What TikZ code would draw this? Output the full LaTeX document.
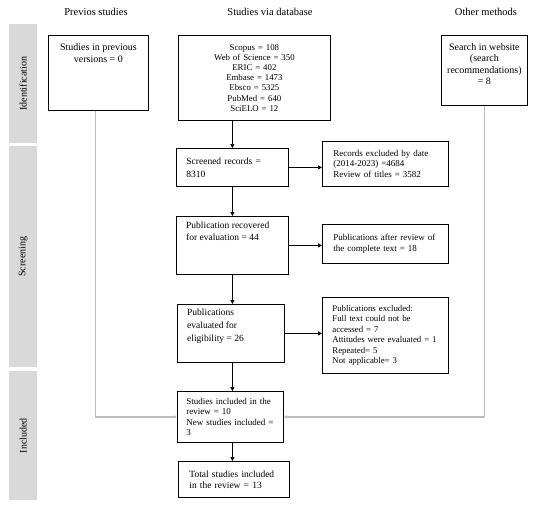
\documentclass[tikz,border=0pt]{standalone}
\usepackage{fontspec}
\setmainfont{Liberation Serif}
\usetikzlibrary{arrows.meta}
\definecolor{phasegray}{RGB}{217,217,217}
\definecolor{linegray}{RGB}{190,190,190}
\begin{document}
\begin{tikzpicture}[x=1pt, y=-1pt,
  box/.style={draw, line width=0.8pt, anchor=north west, inner sep=0pt},
  phase/.style={fill=phasegray, anchor=north west, inner sep=0pt},
  head/.style={font=\fontsize{10.5}{12}\selectfont},
  arr/.style={-{Triangle[length=4pt,width=4pt]}, line width=0.7pt},
  garr/.style={-{Triangle[length=3pt,width=3pt]}, line width=1.3pt, draw=linegray}]
\useasboundingbox (0,0) rectangle (548,506);
% column heads
\node[head] (h1) at (96,12) {Previos studies};
\node[head] (h2) at (270,12) {Studies via database};
\node[head] (h3) at (486,12) {Other methods};
% phase bars
\node[phase, minimum width=28, minimum height=119] (p1) at (9,24) {};
\node[rotate=90, font=\fontsize{10}{11}\selectfont] at (p1) {Identification};
\node[phase, minimum width=28, minimum height=221] (p2) at (9,146) {};
\node[rotate=90, font=\fontsize{10}{11}\selectfont] at (p2) {Screening};
\node[phase, minimum width=28, minimum height=129] (p3) at (9,371) {};
\node[rotate=90, font=\fontsize{10}{11}\selectfont] at (p3) {Included};
% identification
\node[box, minimum width=100, minimum height=75] (prev) at (48,35) {};
\node[anchor=north, align=center, inner sep=0pt, font=\fontsize{10}{12}\selectfont]
  (prev-t) at ([yshift=-8]prev.north) {Studies in previous\\versions = 0};
\node[box, minimum width=152, minimum height=85, align=center, text width=152,
  font=\fontsize{8.8}{10.2}\selectfont] (db) at (178,35)
  {Scopus = 108\\Web of Science = 350\\ERIC = 402\\Embase = 1473\\Ebsco = 5325\\PubMed = 640\\SciELO = 12};
\node[box, minimum width=86, minimum height=70] (web) at (441,35) {};
\node[anchor=north, align=center, inner sep=0pt, font=\fontsize{10}{11.5}\selectfont]
  (web-t) at ([yshift=-8]web.north) {Search in website\\(search\\recommendations)\\= 8};
% screening
\node[box, minimum height=38, inner xsep=10, text width=92, align=left,
  font=\fontsize{9.5}{13}\selectfont] (scr) at (176,148) {Screened records =\\8310};
\node[box, minimum height=45, inner xsep=11, text width=104, align=left,
  font=\fontsize{9}{10.5}\selectfont] (exc1) at (322,141)
  {Records excluded by date\\(2014-2023) =4684\\Review of titles = 3582};
\node[box, minimum width=112, minimum height=58] (rec) at (176,216) {};
\node[anchor=north west, align=left, inner sep=0pt, font=\fontsize{9.5}{12}\selectfont]
  (rec-t) at ([xshift=10,yshift=-6]rec.north west) {Publication recovered\\for evaluation = 44};
\node[box, minimum height=39, inner xsep=11, text width=104, align=left,
  font=\fontsize{9}{10.5}\selectfont] (exc2) at (322,224)
  {Publications after review of\\the complete text = 18};
\node[box, minimum width=107, minimum height=58] (elig) at (177,304) {};
\node[anchor=north west, align=left, inner sep=0pt, font=\fontsize{9.5}{13}\selectfont]
  (elig-t) at ([xshift=10,yshift=-5]elig.north west) {Publications\\evaluated for\\eligibility = 26};
\node[box, minimum height=76, inner xsep=10, text width=106, align=left,
  font=\fontsize{8.8}{10.5}\selectfont] (exc3) at (322,297)
  {Publications excluded:\\Full text could not be\\accessed = 7\\Attitudes were evaluated = 1\\Repeated= 5\\Not applicable= 3};
% included
\node[box, minimum height=51, inner xsep=9, text width=88, align=left,
  font=\fontsize{9}{10.4}\selectfont] (inc) at (177,391)
  {Studies included in the\\review = 10\\New studies included =\\3};
\node[box, minimum height=36, inner xsep=11, text width=89, align=left,
  font=\fontsize{9.5}{11}\selectfont] (tot) at (178,461)
  {Total studies included\\in the review = 13};
% arrows
\draw[arr] (scr.north |- db.south) -- (scr.north);
\draw[arr] (scr.south) -- (rec.north);
\draw[arr] (rec.south) -- (rec.south |- elig.north);
\draw[arr] (rec.south |- elig.south) -- (rec.south |- inc.north);
\draw[arr] (rec.south |- inc.south) -- (rec.south |- tot.north);
\draw[arr] (scr.east) -- (scr.east -| exc1.west);
\draw[arr] (rec.east) -- (rec.east -| exc2.west);
\draw[arr] (elig.east) -- (elig.east -| exc3.west);
\draw[garr] ([xshift=-3]prev.south) |- (inc.west);
\draw[garr] (web.south) |- (inc.east);
\end{tikzpicture}
\end{document}
